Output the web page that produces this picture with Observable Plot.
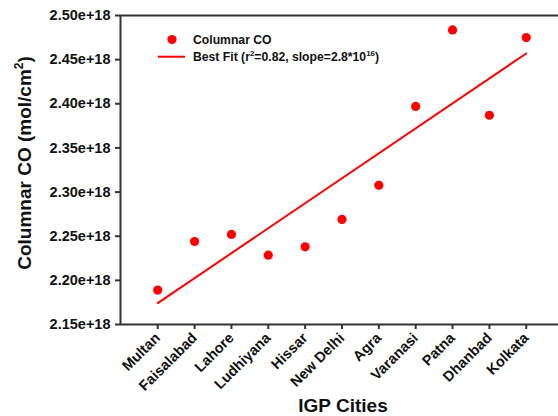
<!DOCTYPE html>
<html>
<head>
<meta charset="utf-8">
<script src="https://cdn.jsdelivr.net/npm/d3@7"></script>
<script src="https://cdn.jsdelivr.net/npm/@observablehq/plot@0.6"></script>
<style>
  html, body { margin: 0; padding: 0; background: #fff; overflow: hidden; }
  #chart { width: 558px; height: 416px; }
</style>
</head>
<body>
<div id="chart"></div>
<script>
// ---- data ----
const cities = ["Multan", "Faisalabad", "Lahore", "Ludhiyana", "Hissar", "New Delhi", "Agra", "Varanasi", "Patna", "Dhanbad", "Kolkata"];
const columnarCO = [2.189e18, 2.244e18, 2.252e18, 2.2285e18, 2.238e18, 2.269e18, 2.3077e18, 2.397e18, 2.4837e18, 2.387e18, 2.475e18];
const fitCities = ["Multan", "Kolkata"];
const fitValues = [2.1742e18, 2.457e18];
const yTicks = [2.15e18, 2.20e18, 2.25e18, 2.30e18, 2.35e18, 2.40e18, 2.45e18, 2.50e18];

const FONT = "'Liberation Sans', Arial, sans-serif";
const AXIS = "#333";
const RED = "#ff0000";

const xDomain = [-1.01, 10.875];
const yDomain = [yTicks[0], yTicks[yTicks.length - 1]];

const plot = Plot.plot({
  width: 558,
  height: 416,
  marginLeft: 120,
  marginRight: 0,
  marginTop: 15,
  marginBottom: 92,
  style: { fontFamily: FONT, fontSize: "14.5px", fontWeight: "bold", background: "#fff", overflow: "visible" },
  x: { type: "linear", domain: xDomain },
  y: { domain: yDomain },
  marks: [
    Plot.axisY({ ticks: yTicks, tickFormat: d3.format(".2e"), tickSize: 5, tickPadding: 5, label: null, stroke: AXIS, strokeWidth: 2, fill: "#111" }),
    Plot.axisX({ ticks: d3.range(cities.length), tickFormat: i => cities[i], tickRotate: -45, tickSize: 5, tickPadding: 6, label: null, stroke: AXIS, strokeWidth: 2, fill: "#111" }),
    Plot.ruleY(yDomain, { stroke: AXIS, strokeWidth: 2 }),
    Plot.ruleX([xDomain[0]], { stroke: AXIS, strokeWidth: 2 }),
    Plot.line(fitCities, { x: d => cities.indexOf(d), y: (d, i) => fitValues[i], stroke: RED, strokeWidth: 2 }),
    Plot.dot(cities, { x: (d, i) => i, y: (d, i) => columnarCO[i], r: 4.6, fill: RED, stroke: "none" })
  ]
});

const svg = d3.select(plot);

// Y axis title
const yt = svg.append("text")
  .attr("transform", "translate(31,163) rotate(-90)")
  .attr("text-anchor", "middle")
  .attr("font-family", FONT).attr("font-weight", "bold").attr("font-size", "19px").attr("fill", "#111");
yt.append("tspan").text("Columnar CO (mol/cm");
yt.append("tspan").attr("font-size", "12px").attr("dy", "-8").text("2");
yt.append("tspan").attr("dy", "8").text(")");

// X axis title
svg.append("text")
  .attr("x", 343).attr("y", 412)
  .attr("text-anchor", "middle")
  .attr("font-family", FONT).attr("font-weight", "bold").attr("font-size", "19px").attr("fill", "#111")
  .text("IGP Cities");

// Legend
const lg = svg.append("g").attr("font-family", FONT).attr("font-weight", "bold").attr("font-size", "12.2px").attr("fill", "#111").attr("text-anchor", "start");
lg.append("circle").attr("cx", 172).attr("cy", 39.5).attr("r", 4.6).attr("fill", RED);
lg.append("text").attr("x", 193).attr("y", 44).text("Columnar CO");
lg.append("line").attr("x1", 158).attr("x2", 185).attr("y1", 56.7).attr("y2", 56.7).attr("stroke", RED).attr("stroke-width", 2);
const t2 = lg.append("text").attr("x", 193).attr("y", 61);
t2.append("tspan").text("Best Fit (r");
t2.append("tspan").attr("font-size", "8px").attr("dy", "-5").text("2");
t2.append("tspan").attr("dy", "5").text("=0.82, slope=2.8*10");
t2.append("tspan").attr("font-size", "8px").attr("dy", "-5").text("16");
t2.append("tspan").attr("dy", "5").text(")");

document.getElementById("chart").appendChild(plot);
</script>
</body>
</html>
